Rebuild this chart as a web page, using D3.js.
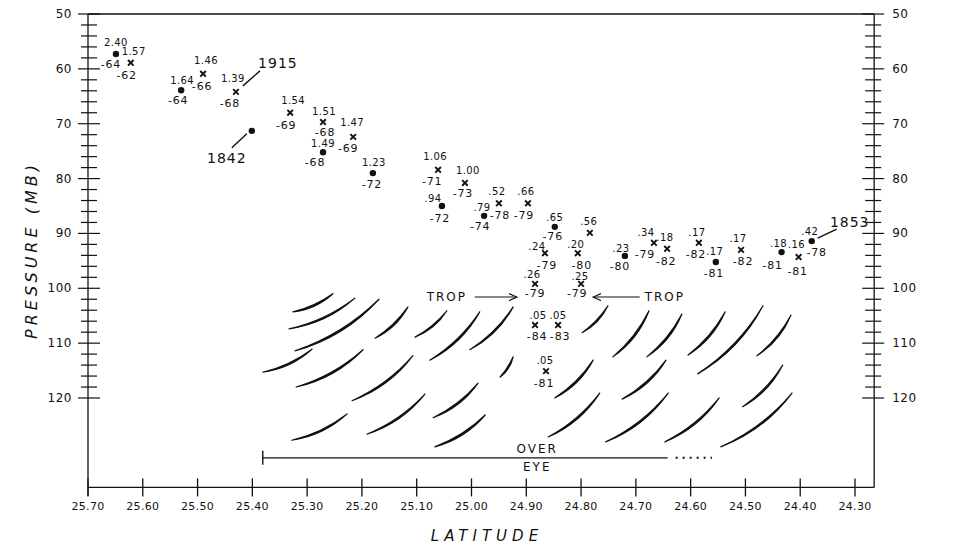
<!DOCTYPE html>
<html><head><meta charset="utf-8">
<script src="https://cdn.jsdelivr.net/npm/d3@7"></script>
<style>
body{margin:0;background:#fff}
svg{display:block}
text{font-family:"DejaVu Sans",sans-serif;fill:#111}
</style>
</head><body>
<svg id="c" width="962" height="548"></svg>
<script>
// ---------- data ----------
const latTicks = [25.70,25.60,25.50,25.40,25.30,25.20,25.10,25.00,24.90,24.80,24.70,24.60,24.50,24.40,24.30];
const latTickLabels = ["25.70","25.60","25.50","25.40","25.30","25.20","25.10","25.00","24.90","24.80","24.70","24.60","24.50","24.40","24.30"];
const pressureTicks = [50,60,70,80,90,100,110,120];
const pressureTickLabels = ["50","60","70","80","90","100","110","120"];

const pointLat = [25.649,25.622,25.530,25.490,25.430,25.401,25.331,25.271,25.271,25.216,25.180,25.061,25.054,25.012,24.977,24.950,24.897,24.848,24.784,24.866,24.806,24.884,24.800,24.884,24.842,24.864,24.720,24.667,24.643,24.585,24.554,24.508,24.434,24.403,24.379];
const pointPressure = [57.3,58.9,63.9,60.9,64.2,71.3,68.0,69.7,75.2,72.4,79.0,78.4,85.0,80.8,86.8,84.5,84.5,88.8,89.9,93.6,93.6,99.2,99.2,106.7,106.7,115.1,94.1,91.7,92.8,91.7,95.2,93.0,93.4,94.3,91.4];
const pointMarker = ["dot","x","dot","x","x","dot","x","x","dot","x","dot","x","dot","x","dot","x","x","dot","x","x","x","x","x","x","x","x","dot","x","x","x","dot","x","dot","x","dot"];
const upperLabels = ["2.40","1.57","1.64","1.46","1.39","","1.54","1.51","1.49","1.47","1.23","1.06",".94","1.00",".79",".52",".66",".65",".56",".24",".20",".26",".25",".05",".05",".05",".23",".34",".18",".17",".17",".17",".18",".16",".42"];
const tempLabels = ["-64","-62","-64","-66","-68","","-69","-68","-68","-69","-72","-71","-72","-73","-74","-78","-79","-76","","-79","-80","-79","-79","-84","-83","-81","-80","-79","-82","-82","-81","-82","-81","-81","-78"];

// dated points: index into point arrays, label
const dateLabels = ["1915","1842","1853"];
const datePointIndex = [4,5,34];

// streaks (lat, p) start -> end
const streakStartLat = [25.326,25.333,25.322,25.381,25.176,25.103,25.076,25.003,24.948,25.320,25.218,25.191,25.328,25.070,25.067,24.848,24.798,24.742,24.680,24.605,24.587,24.479,24.725,24.505,24.755,24.647,24.545,24.860];
const streakStartP   = [104.3,107.4,111.4,115.3,109.1,108.9,113.1,111.2,116.2,118.0,120.5,126.6,127.7,123.6,128.9,120.0,108.1,112.5,112.5,112.2,115.6,112.3,120.2,121.6,128.0,128.0,128.9,127.1];
const streakEndLat   = [25.253,25.213,25.169,25.291,25.116,25.045,24.985,24.924,24.924,25.198,25.107,25.085,25.227,24.988,24.975,24.778,24.751,24.676,24.616,24.537,24.468,24.417,24.645,24.432,24.641,24.548,24.415,24.766];
const streakEndP     = [101.0,101.8,102.0,111.1,103.4,104.1,104.3,103.4,112.5,111.2,112.3,119.3,122.9,117.3,123.1,113.1,103.2,104.1,104.7,104.3,103.2,104.9,113.1,114.0,119.1,120.0,119.1,119.1];

// annotations
const tropLabel = "TROP";
const tropTextLat = [25.045,24.647];
const tropP = 101.6;
const tropArrowFrom = [24.994,24.693];
const tropArrowTo = [24.917,24.778];
const eyeBarLat = [25.381,24.642,24.561];
const eyeBarP = 130.9;
const eyeTextLat = 24.880;
const eyeTexts = ["OVER","EYE"];
const eyeTextP = [129.3,132.6];

// ---------- layout / style ----------
const upperOff = [[0,-12],[3,-11],[1,-10],[3,-13],[-3,-13],[0,0],[3,-12],[1,-11],[0,-9],[-1,-14],[1,-11],[-3,-13],[-9,-8],[3,-12],[-2,-8],[-2,-12],[-2,-12],[0,-9],[-1,-11],[-8,-7],[-2,-9],[-3,-9],[-1,-7],[3,-10],[0,-10],[-1,-11],[-4,-7],[-8,-10],[-2,-11],[-2,-10],[-1,-10],[-3,-11],[-3,-9],[-2,-13],[-2,-10]];
const tempOff = [[-5,10],[-4,13],[-3,10],[-1,13],[-6,12],[0,0],[-4,13],[2,10],[-8,10],[-5,12],[-1,11],[-6,12],[-2,12],[-2,11],[-4,11],[1,12],[-4,12],[-2,10],[0,0],[2,12],[4,12],[0,10],[-4,10],[2,11],[2,11],[-2,12],[-5,11],[-9,12],[-1,13],[-3,12],[-2,12],[2,12],[-9,13],[-1,14],[5,11]];
// leader: [x1,y1,x2,y2] relative to marker, text offset
const dateLeader = [[7,-6,24,-21],[-5,3,-20,17],[6,-3,25,-12]];
const dateTextOff = [[42,-29],[-25,27],[38,-19]];

const svg = d3.select("#c");
const x = d3.scaleLinear().domain([25.70,24.30]).range([88,855]);
const y = d3.scaleLinear().domain([50,120]).range([14,398]);
const latRight = 24.265, pBottom = 136.3;
const X0 = x(25.70), X1 = x(latRight), Y0 = y(50), Y1 = y(pBottom);
const ink = "#111";

// frame
const g = svg.append("g").attr("stroke",ink).attr("fill","none");
g.append("line").attr("x1",X0).attr("x2",X1).attr("y1",Y0).attr("y2",Y0).attr("stroke-width",1.3);
g.append("line").attr("x1",X0).attr("x2",X0).attr("y1",Y0).attr("y2",Y1+8).attr("stroke-width",1.3);
g.append("line").attr("x1",X1).attr("x2",X1).attr("y1",Y0).attr("y2",Y1).attr("stroke-width",1.3);
g.append("line").attr("x1",X0).attr("x2",X1).attr("y1",Y1).attr("y2",Y1).attr("stroke-width",1.3);

// x ticks
latTicks.forEach((t,i)=>{
  g.append("line").attr("x1",x(t)).attr("x2",x(t)).attr("y1",Y1-9).attr("y2",Y1+9).attr("stroke-width",1.3);
  svg.append("text").attr("x",x(t)).attr("y",Y1+19).attr("text-anchor","middle").attr("dominant-baseline","central")
    .attr("font-size",11).attr("letter-spacing",0.3).text(latTickLabels[i]);
});
// y ticks (minor every 2 mb)
const minor = d3.range(50,120.1,2);
minor.forEach(p=>{
  const major = p%10===0;
  const L = major?10:7, R = major?12:9;
  g.append("line").attr("x1",X0-L).attr("x2",X0+R).attr("y1",y(p)).attr("y2",y(p)).attr("stroke-width",1.2);
  g.append("line").attr("x1",X1-R).attr("x2",X1+L).attr("y1",y(p)).attr("y2",y(p)).attr("stroke-width",1.2);
});
pressureTicks.forEach((t,i)=>{
  svg.append("text").attr("x",X0-16).attr("y",y(t)).attr("text-anchor","end").attr("dominant-baseline","central")
    .attr("font-size",12).attr("letter-spacing",0.5).text(pressureTickLabels[i]);
  svg.append("text").attr("x",X1+18).attr("y",y(t)).attr("text-anchor","start").attr("dominant-baseline","central")
    .attr("font-size",12).attr("letter-spacing",0.5).text(pressureTickLabels[i]);
});
// axis titles
svg.append("text").attr("transform",`translate(31,250) rotate(-90)`).attr("text-anchor","middle")
  .attr("dominant-baseline","central").attr("font-size",16).attr("font-style","italic").attr("letter-spacing",4).text("PRESSURE (MB)");
svg.append("text").attr("x",487).attr("y",536).attr("text-anchor","middle").attr("dominant-baseline","central")
  .attr("font-size",15).attr("font-style","italic").attr("letter-spacing",5).text("LATITUDE");

// streaks: tapered brush strokes
const sg = svg.append("g");
streakStartLat.forEach((_,i)=>{
  const ax=x(streakStartLat[i]), ay=y(streakStartP[i]), bx=x(streakEndLat[i]), by=y(streakEndP[i]);
  const dx=bx-ax, dy=by-ay, len=Math.hypot(dx,dy);
  const nx=-dy/len, ny=dx/len; // toward lower-right
  const mx=(ax+bx)/2, my=(ay+by)/2, k=len*0.13, w=1.5;
  const c1x=mx+nx*(k+w), c1y=my+ny*(k+w), c2x=mx+nx*(k-w), c2y=my+ny*(k-w);
  sg.append("path").attr("d",`M${ax},${ay}Q${c1x},${c1y} ${bx},${by}Q${c2x},${c2y} ${ax},${ay}Z`)
    .attr("fill",ink).attr("stroke",ink).attr("stroke-width",1.2).attr("stroke-linejoin","round");
});

// points
pointLat.forEach((_,i)=>{
  const px=x(pointLat[i]), py=y(pointPressure[i]);
  if(pointMarker[i]==="dot"){
    svg.append("circle").attr("cx",px).attr("cy",py).attr("r",3.2).attr("fill",ink);
  } else {
    const s=2.8;
    svg.append("path").attr("d",`M${px-s},${py-s}L${px+s},${py+s}M${px+s},${py-s}L${px-s},${py+s}`)
      .attr("stroke",ink).attr("stroke-width",1.9).attr("fill","none");
  }
  if(upperLabels[i]) svg.append("text").attr("x",px+upperOff[i][0]).attr("y",py+upperOff[i][1]).attr("text-anchor","middle")
    .attr("dominant-baseline","central").attr("font-size",10).attr("letter-spacing",0.4).text(upperLabels[i]);
  if(tempLabels[i]) svg.append("text").attr("x",px+tempOff[i][0]).attr("y",py+tempOff[i][1]).attr("text-anchor","middle")
    .attr("dominant-baseline","central").attr("font-size",11).attr("letter-spacing",0.8).text(tempLabels[i]);
});

// dates
dateLabels.forEach((d,i)=>{
  const k=datePointIndex[i], px=x(pointLat[k]), py=y(pointPressure[k]), L=dateLeader[i];
  svg.append("line").attr("x1",px+L[0]).attr("y1",py+L[1]).attr("x2",px+L[2]).attr("y2",py+L[3]).attr("stroke",ink).attr("stroke-width",1.4);
  svg.append("text").attr("x",px+dateTextOff[i][0]).attr("y",py+dateTextOff[i][1]).attr("text-anchor","middle")
    .attr("dominant-baseline","central").attr("font-size",14).attr("letter-spacing",1).text(d);
});

// TROP arrows
svg.append("defs").append("marker").attr("id","ah").attr("viewBox","0 0 10 10").attr("refX",9).attr("refY",5)
  .attr("markerWidth",9).attr("markerHeight",9).attr("orient","auto-start-reverse").attr("markerUnits","userSpaceOnUse")
  .append("path").attr("d","M0,1L9,5L0,9").attr("fill","none").attr("stroke",ink).attr("stroke-width",1.3);
tropTextLat.forEach((t,i)=>{
  svg.append("text").attr("x",x(t)).attr("y",y(tropP)).attr("text-anchor","middle").attr("dominant-baseline","central")
    .attr("font-size",12).attr("letter-spacing",2).text(tropLabel);
  svg.append("line").attr("x1",x(tropArrowFrom[i])).attr("x2",x(tropArrowTo[i])).attr("y1",y(tropP)).attr("y2",y(tropP))
    .attr("stroke",ink).attr("stroke-width",1.1).attr("marker-end","url(#ah)");
});

// OVER EYE bar
const ey=y(eyeBarP);
svg.append("line").attr("x1",x(eyeBarLat[0])).attr("x2",x(eyeBarLat[1])).attr("y1",ey).attr("y2",ey).attr("stroke",ink).attr("stroke-width",1.2);
svg.append("line").attr("x1",x(eyeBarLat[0])).attr("x2",x(eyeBarLat[0])).attr("y1",ey-7).attr("y2",ey+7).attr("stroke",ink).attr("stroke-width",1.4);
svg.append("line").attr("x1",x(eyeBarLat[1])+8).attr("x2",x(eyeBarLat[2])).attr("y1",ey).attr("y2",ey).attr("stroke",ink)
  .attr("stroke-width",2).attr("stroke-dasharray","2,5");
eyeTexts.forEach((t,i)=>{
  svg.append("text").attr("x",x(eyeTextLat)).attr("y",y(eyeTextP[i])).attr("text-anchor","middle").attr("dominant-baseline","central")
    .attr("font-size",12).attr("letter-spacing",2).attr("stroke","#fff").attr("stroke-width",4).attr("paint-order","stroke").text(t);
});
</script>
</body></html>
